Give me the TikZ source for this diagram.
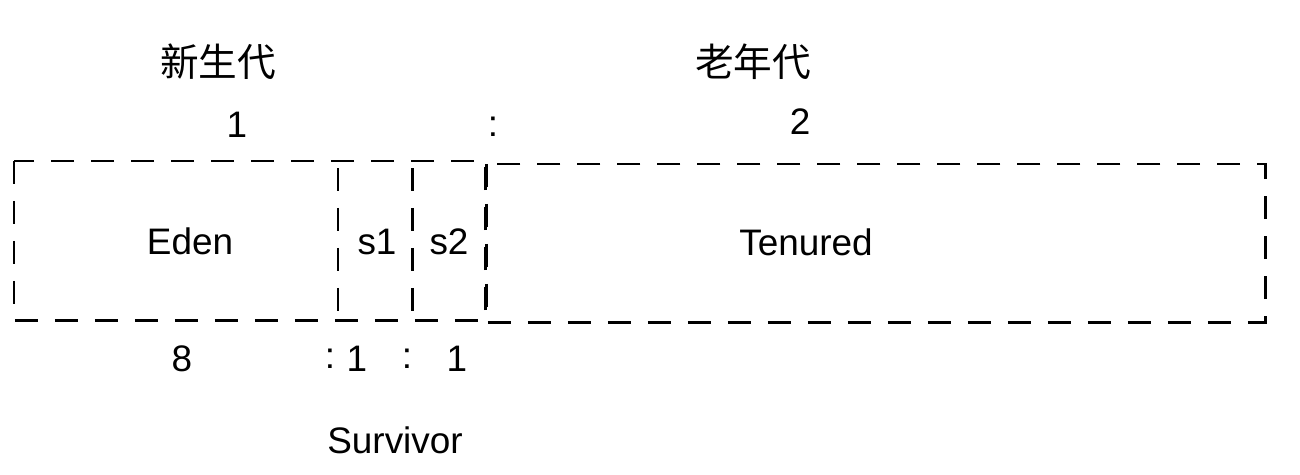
\documentclass[tikz,border=0pt]{standalone}
\usepackage{fontspec}
\setmainfont{Liberation Sans}
\newfontfamily\cjk{Noto Sans CJK SC}
\usetikzlibrary{positioning,calc}

\tikzset{
  dashbox/.style={line width=1.7pt,dash pattern=on 0.46cm off 0.34cm},
  lbl/.style={font=\fontsize{21}{24}\selectfont,inner sep=0pt},
  cnlbl/.style={font=\cjk\fontsize{22}{26}\selectfont,inner sep=0pt}
}

\begin{document}
\begin{tikzpicture}[x=0.02cm,y=-0.02cm]
        \useasboundingbox (0,0) rectangle (1300,474);
        % draw boxes
        \draw[dashbox] (14,161) rectangle (485,320);
        \foreach \x in {338,412}
        \draw[dashbox] (\x,168) -- (\x,318);
        \draw[dashbox] (486,164) rectangle (1265,322);
        % draw titles
        \node[cnlbl] (young) at (218,62) {新生代};
        \node[cnlbl] (old) at (753,62) {老年代};
        \node[lbl] (ratioa) at (237,125) {1};
        \node[lbl] (colona) at (493,127) {:};
        \node[lbl] (ratiob) at (800,122) {2};
        % draw box labels
        \node[lbl] (eden) at (190,241) {Eden};
        \node[lbl] (sone) at (377,242) {s1};
        \node[lbl] (stwo) at (449,242) {s2};
        \node[lbl] (tenured) at (806,242) {Tenured};
        % draw bottom ratio
        \foreach \x/\t in {182/8,330/:,357/1,407/:,457/1}
        \node[lbl] (r\x) at (\x,359) {\t};
        \node[lbl] (survivor) at (395,440) {Survivor};
\end{tikzpicture}
\end{document}
